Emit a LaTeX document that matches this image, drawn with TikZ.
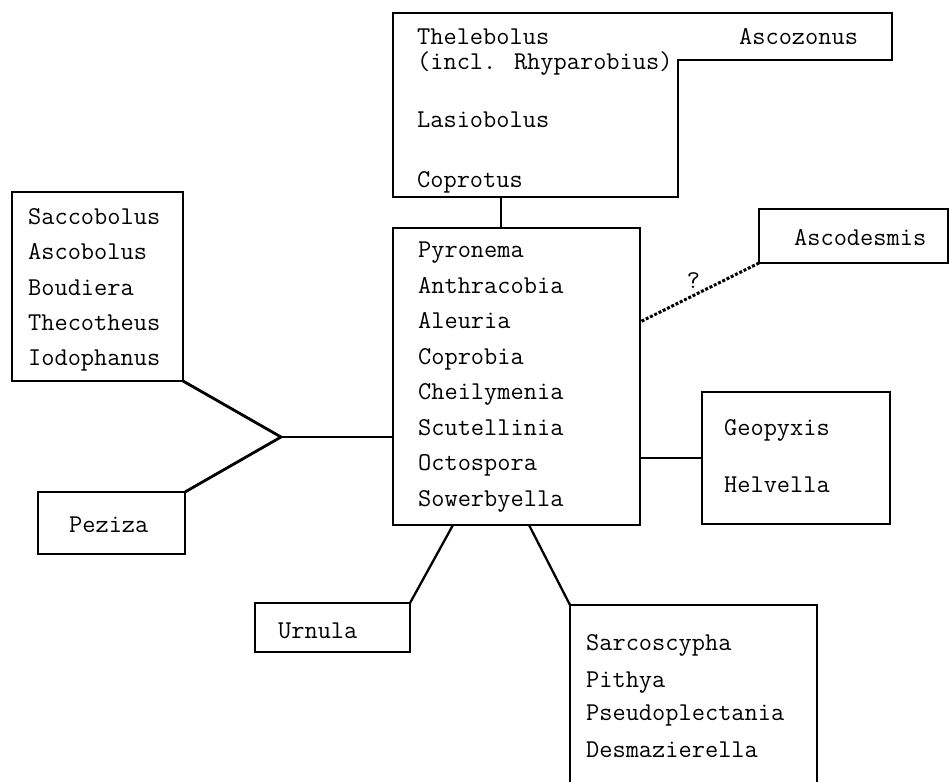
\documentclass[tikz,border=0pt]{standalone}
\usepackage{fontspec}
\begin{document}
\begin{tikzpicture}[x=0.02cm, y=-0.02cm, line width=1.3pt,
    box/.style 2 args={draw, anchor=north west, inner sep=0pt, outer sep=0pt, minimum width=#1*0.02cm, minimum height=#2*0.02cm},
    txt/.style={anchor=base west, inner sep=0pt, font=\ttfamily\fontsize{14.6}{17}\selectfont}]
        \clip (0,0) rectangle (950,781);
        % boxes
        \draw (393,13) -- (892,13) -- (892,60) -- (678,60) -- (678,197) -- (393,197) -- cycle;
        \coordinate (tfoot) at (501,197);
        \node[box={247}{297}] (cen) at (393,228) {};
        \node[box={171}{189}] (sac) at (12,192) {};
        \node[box={147}{62}] (pez) at (38,492) {};
        \node[box={188}{132}] (geo) at (702,392) {};
        \node[box={189}{54}] (ascd) at (759,209) {};
        \node[box={155}{49}] (urn) at (255,603) {};
        \node[box={247}{200}] (sar) at (570,605) {};
        % top group
        \node[txt] (thel) at (416,44) {Thelebolus};
        \node[txt] (rhyp) at (416,69) {(incl. Rhyparobius)};
        \node[txt] (ascz) at (738,44) {Ascozonus};
        \node[txt] (lasi) at (416,127) {Lasiobolus};
        \node[txt] (copt) at (416,187) {Coprotus};
        % central group
        \node[txt] (pyro) at (417,257) {Pyronema};
        \node[txt] (anth) at (417,293) {Anthracobia};
        \node[txt] (aleu) at (417,328) {Aleuria};
        \node[txt] (copb) at (417,364) {Coprobia};
        \node[txt] (chei) at (417,399) {Cheilymenia};
        \node[txt] (scut) at (417,435) {Scutellinia};
        \node[txt] (octo) at (417,470) {Octospora};
        \node[txt] (sowe) at (417,506) {Sowerbyella};
        % left group
        \node[txt] (sacc) at (27,224) {Saccobolus};
        \node[txt] (ascb) at (27,259) {Ascobolus};
        \node[txt] (boud) at (27,295) {Boudiera};
        \node[txt] (thec) at (27,330) {Thecotheus};
        \node[txt] (iodo) at (27,365) {Iodophanus};
        \node[txt] (pezi) at (68,532) {Peziza};
        % right and lower groups
        \node[txt] (ascm) at (793,245) {Ascodesmis};
        \node[txt] (geop) at (723,435) {Geopyxis};
        \node[txt] (helv) at (723,492) {Helvella};
        \node[txt] (urnu) at (277,638) {Urnula};
        \node[txt] (sarc) at (585,650) {Sarcoscypha};
        \node[txt] (pith) at (585,687) {Pithya};
        \node[txt] (pseu) at (585,720) {Pseudoplectania};
        \node[txt] (desm) at (585,757) {Desmazierella};
        % connectors
        \coordinate (fork) at (281,437);
        \coordinate (qend) at (640,322);
        \coordinate (u1) at (453,525);
        \coordinate (s1) at (529,525);
        \draw (tfoot) -- (tfoot |- cen.north);
        \draw[line width=1.6pt] (sac.south east) -- (fork) -- (pez.north east);
        \draw (fork) -- (fork -| cen.west);
        \draw (geo.west) -- (geo.west -| cen.east);
        \draw (u1) -- (urn.north east);
        \draw (s1) -- (sar.north west);
        \draw[densely dotted, line width=1.7pt] (ascd.south west) -- node[pos=0.55, above, inner sep=3pt, font=\ttfamily\fontsize{14.6}{17}\selectfont] (qm) {?} (qend);% uncertain
    \end{tikzpicture}
\end{document}
